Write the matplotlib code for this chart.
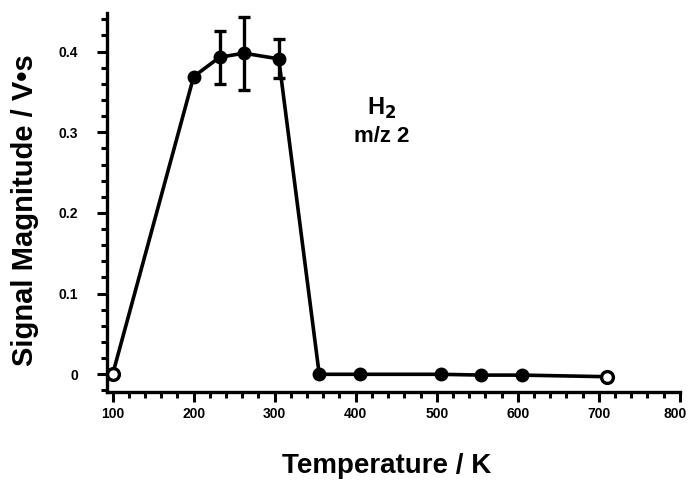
import numpy as np
import matplotlib
matplotlib.use("Agg")
import matplotlib.pyplot as plt
from matplotlib.ticker import MultipleLocator
from matplotlib.transforms import ScaledTranslation

# H2 (m/z 2) signal vs temperature
temp = [100, 200, 232, 262, 305, 355, 405, 505, 555, 605, 710]
signal = [0.0, 0.369, 0.393, 0.398, 0.391, 0.0, 0.0, 0.0, -0.001, -0.001, -0.003]
err_temp = [232, 262, 305]
err_sig = [0.393, 0.398, 0.391]
err_size = [0.033, 0.045, 0.024]
open_pts = [0, 10]  # indices drawn as open circles

xticks = [100, 200, 300, 400, 500, 600, 700, 800]
yticks = [0, 0.1, 0.2, 0.3, 0.4]
yticklabels = ["0", "0.1", "0.2", "0.3", "0.4"]

plt.rcParams["font.family"] = ["Liberation Sans", "DejaVu Sans"]


def main():
    fig = plt.figure(figsize=(6.88, 4.95), dpi=100)
    ax = fig.add_axes([0.1555, 0.208, 0.8325, 0.766])

    ax.plot(temp, signal, color="black", lw=2.6, zorder=2)
    filled = [i for i in range(len(temp)) if i not in open_pts]
    ax.plot([temp[i] for i in filled], [signal[i] for i in filled], "o",
            color="black", ms=9, zorder=3)
    ax.plot([temp[i] for i in open_pts], [signal[i] for i in open_pts], "o",
            mfc="white", mec="black", mew=2.4, ms=8.5, zorder=3)
    ax.errorbar(err_temp, err_sig, yerr=err_size, fmt="none", ecolor="black",
                elinewidth=2.4, capsize=4, capthick=2.4, zorder=2)

    ax.set_xlim(93, 800)
    ax.set_ylim(-0.022, 0.448)
    ax.set_xticks(xticks)
    ax.set_yticks(yticks)
    ax.set_yticklabels(yticklabels)
    ax.xaxis.set_minor_locator(MultipleLocator(20))
    ax.yaxis.set_minor_locator(MultipleLocator(0.02))

    for s in ["top", "right"]:
        ax.spines[s].set_visible(False)
    for s in ["left", "bottom"]:
        ax.spines[s].set_linewidth(2.4)

    ax.tick_params(which="major", direction="out", length=7, width=2.2)
    ax.tick_params(which="minor", direction="out", length=4, width=2.2)
    ax.tick_params(axis="x", pad=4)
    ax.tick_params(axis="y", pad=14)
    for lab in ax.get_xticklabels() + ax.get_yticklabels():
        lab.set_fontsize(10)
        lab.set_fontweight("bold")
    # last x label sits at the figure edge, nudge it inwards a little
    last = ax.get_xticklabels()[-1]
    last.set_transform(last.get_transform()
                       + ScaledTranslation(-5 / 100, 0, fig.dpi_scale_trans))

    ax.set_xlabel("Temperature / K", fontsize=20, fontweight="bold")
    ax.xaxis.set_label_coords(0.488, -0.16)
    ax.set_ylabel("Signal Magnitude / V\u2022s", fontsize=21, fontweight="bold")
    ax.yaxis.set_label_coords(-0.119, 0.48)

    ax.text(432, 0.314, "H$_\\mathbf{2}$", fontsize=17, fontweight="bold",
            ha="center", va="bottom")
    ax.text(432, 0.308, "m/z 2", fontsize=16, fontweight="bold",
            ha="center", va="top")

    fig.savefig("out.png", dpi=100)
    plt.close(fig)


if __name__ == "__main__":
    main()
